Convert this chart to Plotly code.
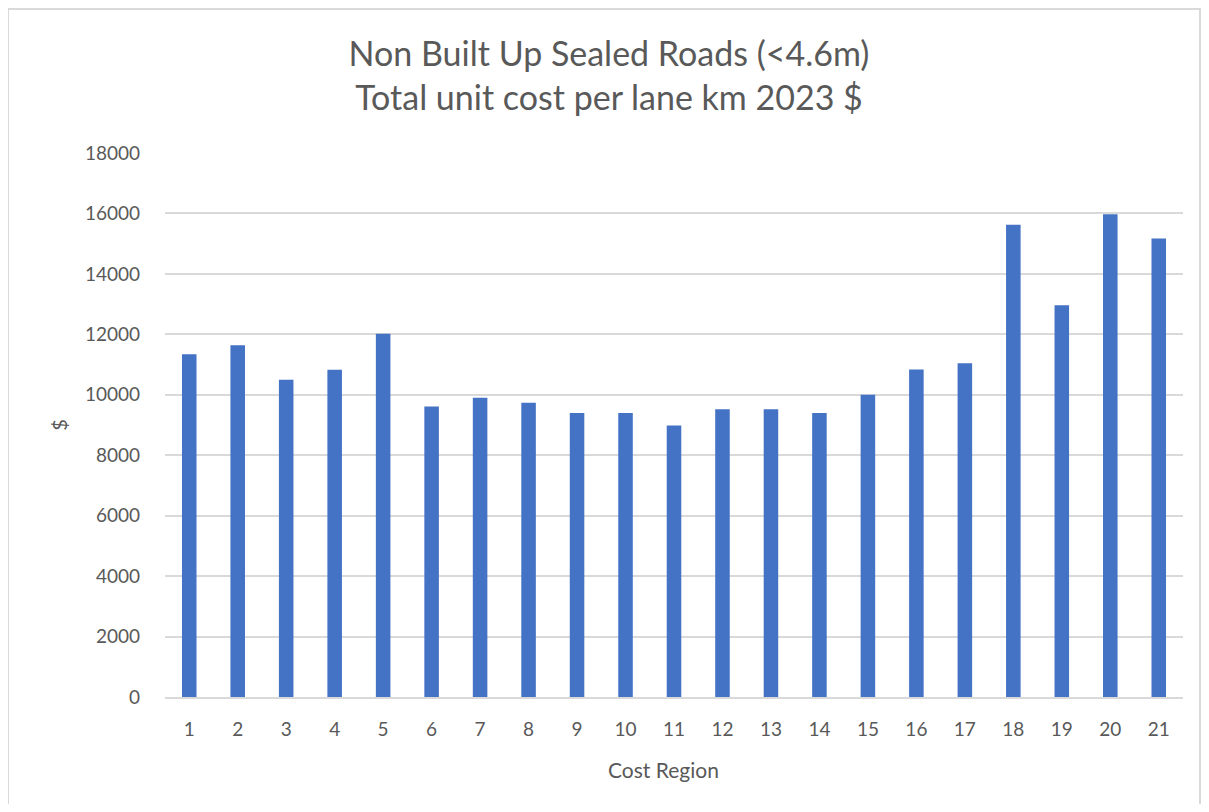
import plotly.graph_objects as go

regions = [str(i) for i in range(1, 22)]
unit_cost = [11340, 11640, 10500, 10830, 12020, 9610, 9900, 9740, 9400, 9400,
             8980, 9520, 9520, 9400, 10000, 10840, 11040, 15630, 12960, 15970, 15170]
y_ticks = [0, 2000, 4000, 6000, 8000, 10000, 12000, 14000, 16000, 18000]

title_lines = ["Non Built Up Sealed Roads (<4.6m)", "Total unit cost per lane km 2023 $"]
x_title = "Cost Region"
y_title = "$"

FONT = "Lato"
GREY = "#595959"
GRID = "#d9d9d9"

fig = go.Figure(go.Bar(
    x=regions, y=unit_cost,
    marker=dict(color="#4472C4", line=dict(width=0)),
    width=0.3,
))

OFF = 8  # page body margin
L, T = 165 - OFF, 153 - OFF
pw, ph = 1018, 544
W, H = 1193, 796
R = W - L - pw
B = H - T - ph

def px_x(p):
    return (p - OFF - L) / pw

def px_y(p):
    return (T + ph - (p - OFF)) / ph

fig.update_layout(
    width=W, height=H,
    margin=dict(l=L, r=R, t=T, b=B),
    paper_bgcolor="white", plot_bgcolor="white",
    showlegend=False,
    font=dict(family=FONT, color=GREY),
    title=dict(
        text="<br>".join(title_lines),
        x=(609 - OFF) / W, xref="container", xanchor="center",
        y=1 - 58 / H, yanchor="top",
        font=dict(size=34, color=GREY, family=FONT),
    ),
    xaxis=dict(
        type="category",
        range=[-0.5, 20.5],
        showgrid=False,
        showline=True, linecolor=GRID, linewidth=1.5,
        ticks="", tickfont=dict(size=19, color=GREY),
        ticklabelstandoff=14,
    ),
    yaxis=dict(
        range=[0, 18000],
        tickvals=y_ticks,
        ticktext=[str(v) for v in y_ticks],
        showgrid=True, gridcolor=GRID, gridwidth=1.5,
        zeroline=False, showline=False,
        ticks="", tickfont=dict(size=19, color=GREY),
        ticklabelstandoff=24,
        title=dict(text=y_title, font=dict(size=20, color=GREY), standoff=11),
    ),
    annotations=[dict(
        text=x_title, xref="paper", yref="paper",
        x=px_x(663), y=px_y(769), xanchor="center", yanchor="middle",
        showarrow=False, font=dict(size=21, color=GREY, family=FONT),
    )],
    shapes=[dict(
        type="rect", xref="paper", yref="paper",
        x0=px_x(8), x1=px_x(1200), y0=px_y(830), y1=px_y(9),
        line=dict(color="#d9d9d9", width=2), fillcolor="rgba(0,0,0,0)",
        layer="below",
    )],
)

fig.write_html("out.html")
